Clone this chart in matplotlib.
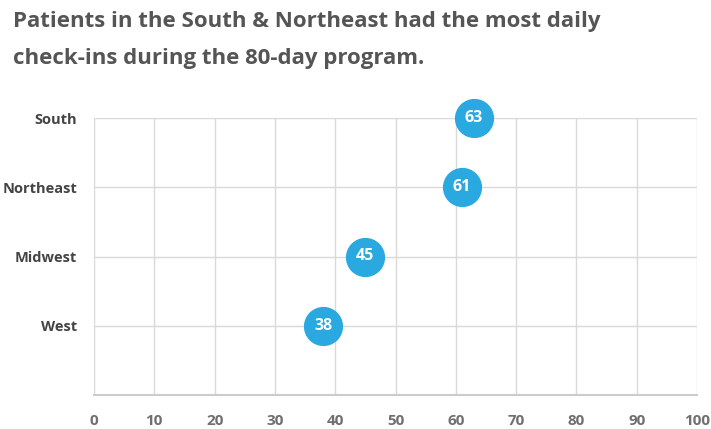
import matplotlib
matplotlib.use("Agg")
import matplotlib.pyplot as plt

regions = ["West", "Midwest", "Northeast", "South"]
checkins = [38, 45, 61, 63]
x_ticks = [0, 10, 20, 30, 40, 50, 60, 70, 80, 90, 100]
title = ("Patients in the South & Northeast had the most daily\n"
         "check-ins during the 80-day program.")

plt.rcParams["font.family"] = ["Open Sans", "DejaVu Sans"]

fig = plt.figure(figsize=(7.11, 4.29), dpi=100)
ax = fig.add_axes([94 / 711, 34 / 429, 603 / 711, 277 / 429])

ypos = list(range(len(regions)))
ax.scatter(checkins, ypos, s=740, color="#29a9df", zorder=3, clip_on=False)
for x, y in zip(checkins, ypos):
    ax.text(x, y, str(x), ha="center", va="center", color="white",
            fontsize=11.5, fontweight="bold", zorder=4)

ax.set_xlim(0, 100)
ax.set_ylim(-1, 3)
ax.set_xticks(x_ticks)
ax.set_xticklabels([str(t) for t in x_ticks])
ax.set_yticks(ypos)
ax.set_yticklabels(regions)
ax.grid(True, color="#d9d9d9", linewidth=1, zorder=0)
for side in ["top", "right", "left"]:
    ax.spines[side].set_visible(False)
ax.spines["bottom"].set_color("#cccccc")
ax.spines["bottom"].set_linewidth(1.5)
ax.tick_params(axis="both", length=0)
ax.tick_params(axis="x", pad=14, labelsize=11, labelcolor="#6f6f6f")
ax.tick_params(axis="y", pad=12, labelsize=10.5, labelcolor="#444444")
for lab in ax.get_xticklabels() + ax.get_yticklabels():
    lab.set_fontweight("bold")

fig.text(13 / 711, 1 - 11 / 429, title, ha="left", va="top",
         fontsize=16, fontweight="bold", color="#555555", linespacing=2.0)

fig.savefig("out.png", dpi=100)
